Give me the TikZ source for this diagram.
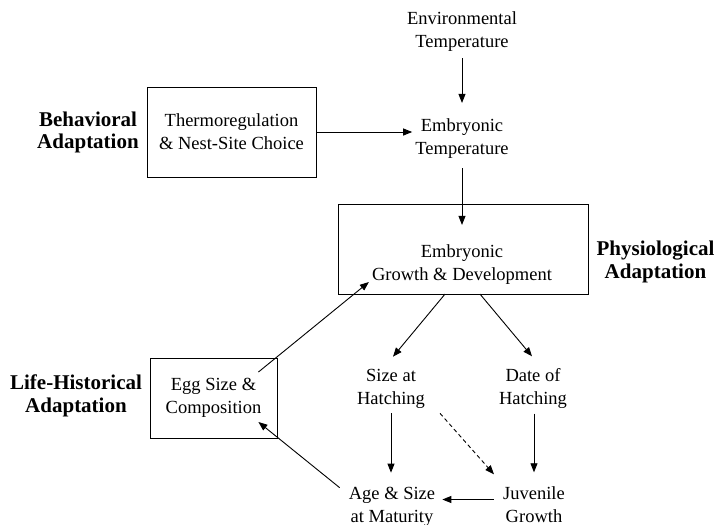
\documentclass[tikz,border=0pt]{standalone}
\usepackage{fontspec}
\setmainfont{Liberation Serif}
\usetikzlibrary{arrows.meta,calc}
\begin{document}
\begin{tikzpicture}[x=1pt,y=-1pt,
  txt/.style={align=center,inner sep=0pt,font=\fontsize{18.5}{23}\selectfont},
  lbl/.style={align=center,inner sep=0pt,font=\fontsize{21}{22.5}\selectfont\bfseries},
  boxn/.style={draw,line width=0.9pt,inner sep=0pt},
  arr/.style={line width=0.9pt,-{Triangle[length=9pt,width=7pt]}}]
\useasboundingbox (0,0) rectangle (718,525);
% nodes
\node[txt] (env) at (462,32) {Environmental\\Temperature};
\node[txt] (embT) at (462,139) {Embryonic\\Temperature};
\node[txt,boxn,minimum width=169pt,minimum height=90pt] (thermo) at (231.5,132) {Thermoregulation\\\& Nest-Site Choice};
\node[lbl] (behav) at (88,132.5) {Behavioral\\Adaptation};
\node[boxn,minimum width=250pt,minimum height=90pt] (physbox) at (463,249) {};
\node[txt] (growth) at (462,265) {Embryonic\\Growth \& Development};
\node[lbl] (physio) at (655.5,262) {Physiological\\Adaptation};
\node[txt] (size) at (391,388.5) {Size at\\Hatching};
\node[txt] (date) at (533,388.5) {Date of\\Hatching};
\node[txt] (age) at (392,506.5) {Age \& Size\\at Maturity};
\node[txt] (juv) at (534,504.5) {Juvenile\\Growth};
\node[txt,boxn,minimum width=127pt,minimum height=80pt] (egg) at (213.5,398) {Egg Size \&\\Composition};
\node[lbl] (life) at (76,396) {Life-Historical\\Adaptation};
% connectors
\draw[arr,shorten <=6pt,shorten >=16pt] (env) -- (embT);
\draw[arr,shorten >=3pt] (thermo.east) -- (thermo.east -| embT.west);
\draw[arr,shorten <=9pt,shorten >=20pt] (embT) -- (growth);
\draw[arr] ([xshift=-17pt,yshift=-9pt]growth.south) -- ([xshift=2pt,yshift=12pt]size.north);
\draw[arr] ([xshift=18pt,yshift=-9pt]growth.south) -- ([xshift=-1pt,yshift=12pt]date.north);
\draw[arr,shorten <=5pt,shorten >=14pt] (size.south) -- (size.south |- age.north);
\draw[arr,shorten <=5pt,shorten >=14pt] ([xshift=1pt]date.south) -- ([xshift=1pt]date.south |- juv.north);
\draw[arr,dash pattern=on 4pt off 3pt] ([xshift=49pt,yshift=-5pt]size.south) -- ([xshift=-9pt,yshift=12pt]juv.north west);
\draw[arr,shorten <=9pt,shorten >=7pt] ([yshift=5pt]juv.west) -- ([yshift=5pt]juv.west -| age.east);
\draw[arr] ([xshift=-9pt,yshift=-1pt]age.north west) -- ([xshift=-19pt,yshift=-24pt]egg.east);
\draw[arr] ([xshift=-19pt,yshift=26pt]egg.east) -- ([xshift=-3pt,yshift=-17pt]growth.west);
\end{tikzpicture}
\end{document}
